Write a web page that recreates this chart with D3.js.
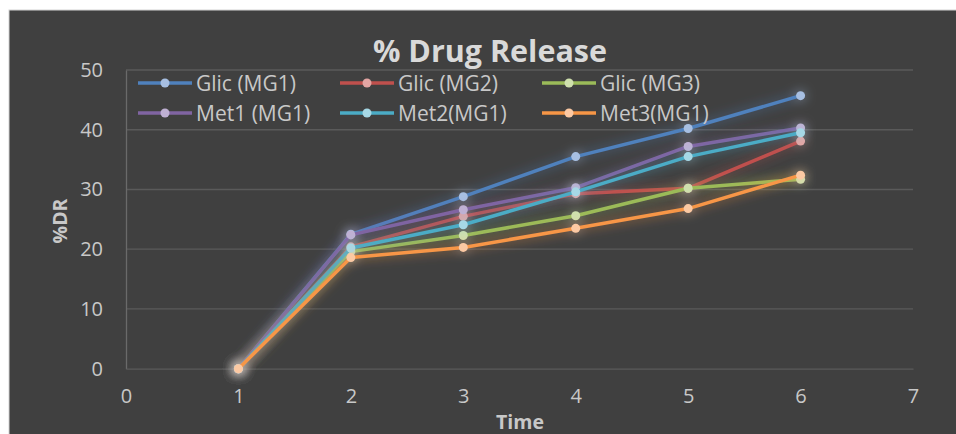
<!DOCTYPE html>
<html><head><meta charset="utf-8">
<script src="https://cdn.jsdelivr.net/npm/d3@7"></script>
<style>body{margin:0;background:#fff;}svg{display:block;}</style>
</head><body>
<svg id="c" width="956" height="434"></svg>
<script>
const times = [1, 2, 3, 4, 5, 6];
const seriesNames = ["Glic (MG1)", "Glic (MG2)", "Glic (MG3)", "Met1 (MG1)", "Met2(MG1)", "Met3(MG1)"];
const glicMG1 = [0, 22.5, 28.8, 35.5, 40.2, 45.7];
const glicMG2 = [0, 20.4, 25.5, 29.3, 30.2, 38.1];
const glicMG3 = [0, 19.6, 22.3, 25.6, 30.2, 31.7];
const met1MG1 = [0, 22.4, 26.6, 30.3, 37.2, 40.3];
const met2MG1 = [0, 20.2, 24.1, 29.6, 35.5, 39.5];
const met3MG1 = [0, 18.6, 20.3, 23.5, 26.8, 32.4];
const xTicks = [0, 1, 2, 3, 4, 5, 6, 7];
const yTicks = [0, 10, 20, 30, 40, 50];

const seriesValues = [glicMG1, glicMG2, glicMG3, met1MG1, met2MG1, met3MG1];
const lineColors = ["#4f81bd", "#c0504d", "#9bbb59", "#8064a2", "#4bacc6", "#f79646"];
const markerColors = ["#a7bfe2", "#e3a5a3", "#cfe0ad", "#bfb0d3", "#a6d8e6", "#fcc9a3"];

const svg = d3.select("#c");
const font = "'Open Sans', sans-serif";

svg.append("rect").attr("x", 9).attr("y", 10).attr("width", 950).attr("height", 430)
  .attr("fill", "#404040").attr("stroke", "#d4d4d4").attr("stroke-width", 1);

const x = d3.scaleLinear().domain([0, 7]).range([126, 913]);
const y = d3.scaleLinear().domain([0, 50]).range([368.7, 70]);

const defs = svg.append("defs");
const f = defs.append("filter").attr("id", "glow").attr("x", "-20%").attr("y", "-20%").attr("width", "140%").attr("height", "140%");
f.append("feGaussianBlur").attr("in", "SourceGraphic").attr("stdDeviation", 6).attr("result", "b");
f.append("feComponentTransfer").attr("in", "b").attr("result", "b2")
  .append("feFuncA").attr("type", "linear").attr("slope", 0.7);
const m = f.append("feMerge");
m.append("feMergeNode").attr("in", "b2");
m.append("feMergeNode").attr("in", "SourceGraphic");

// gridlines
svg.append("g").selectAll("line").data(yTicks.filter(d => d > 0)).join("line")
  .attr("x1", x(0)).attr("x2", x(7)).attr("y1", d => y(d)).attr("y2", d => y(d))
  .attr("stroke", "#5a5a5a").attr("stroke-width", 1.3);

// axes
const yAxis = svg.append("g").attr("transform", `translate(${x(0)},0)`)
  .call(d3.axisLeft(y).tickValues(yTicks).tickSize(0).tickPadding(23));
yAxis.select(".domain").attr("stroke", "#6a6a6a").attr("stroke-width", 1.3);
yAxis.selectAll("text").attr("fill", "#c8c8c8").style("font-family", font).style("font-size", "20px");

const xAxis = svg.append("g").attr("transform", `translate(0,${y(0)})`)
  .call(d3.axisBottom(x).tickValues(xTicks).tickSize(0).tickPadding(20).tickFormat(d3.format("d")));
xAxis.select(".domain").attr("stroke", "#5a5a5a").attr("stroke-width", 1.3);
xAxis.selectAll("text").attr("fill", "#c8c8c8").style("font-family", font).style("font-size", "20px");

// series
const line = d3.line().x((d, i) => x(times[i])).y(d => y(d));
seriesValues.forEach((vals, si) => {
  const g = svg.append("g").attr("filter", "url(#glow)");
  g.append("path").datum(vals).attr("d", line)
    .attr("fill", "none").attr("stroke", lineColors[si]).attr("stroke-width", 3.5)
    .attr("stroke-linejoin", "round");
  g.selectAll("circle").data(vals).join("circle")
    .attr("cx", (d, i) => x(times[i])).attr("cy", d => y(d)).attr("r", 4.5)
    .attr("fill", markerColors[si]);
});

// legend
const legX = [138, 340, 542];
const legY = [83, 113];
seriesNames.forEach((name, i) => {
  const lx = legX[i % 3], ly = legY[Math.floor(i / 3)];
  const g = svg.append("g");
  g.append("line").attr("x1", lx).attr("x2", lx + 54).attr("y1", ly).attr("y2", ly)
    .attr("stroke", lineColors[i]).attr("stroke-width", 3.5);
  g.append("circle").attr("cx", lx + 27).attr("cy", ly).attr("r", 4.5).attr("fill", markerColors[i]);
  g.append("text").attr("x", lx + 58).attr("y", ly + 7.5).text(name)
    .attr("fill", "#c8c8c8").style("font-family", font).style("font-size", "21px");
});

// title
svg.append("text").attr("x", 490).attr("y", 62).attr("text-anchor", "middle")
  .text("% Drug Release").attr("fill", "#d9d9d9")
  .style("font-family", font).style("font-size", "30.5px").style("font-weight", "bold");

// axis titles
svg.append("text").attr("x", 520).attr("y", 429).attr("text-anchor", "middle")
  .text("Time").attr("fill", "#c8c8c8")
  .style("font-family", font).style("font-size", "19.5px").style("font-weight", "bold");
svg.append("text").attr("transform", "translate(67,221) rotate(-90)").attr("text-anchor", "middle")
  .text("%DR").attr("fill", "#c8c8c8")
  .style("font-family", font).style("font-size", "19.5px").style("font-weight", "bold");
</script>
</body></html>
